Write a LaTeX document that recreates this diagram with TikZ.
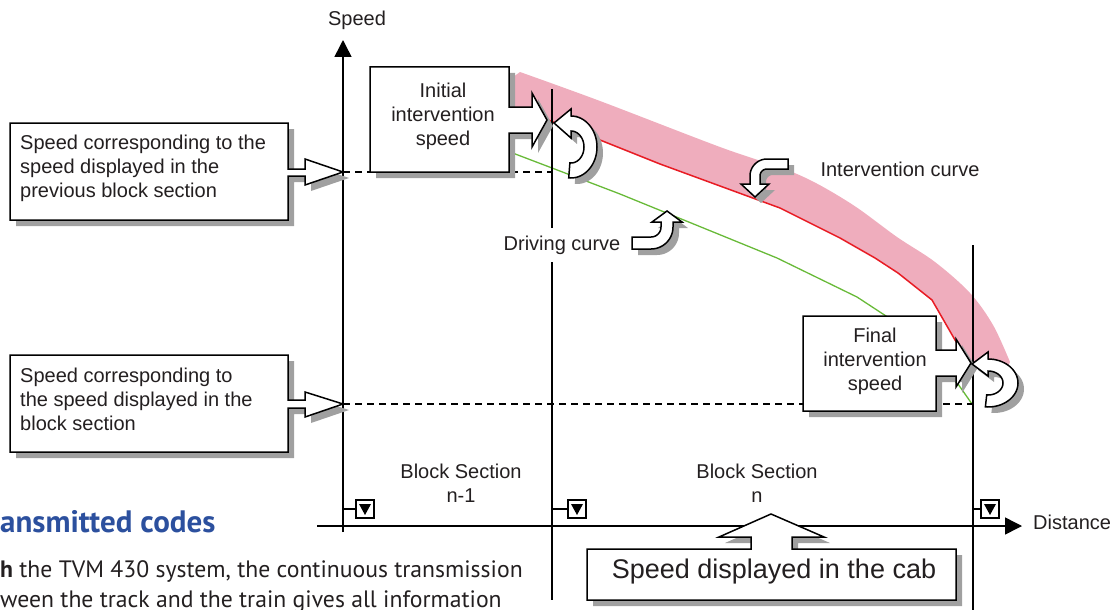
\documentclass[tikz,border=0pt]{standalone}
\usepackage{fontspec}
\setmainfont{Liberation Sans}
\newfontfamily\ptsans{PT Sans}
\usetikzlibrary{arrows.meta,calc}
\definecolor{pinkband}{RGB}{239,173,189}
\definecolor{redc}{RGB}{232,28,36}
\definecolor{greenc}{RGB}{104,186,56}
\definecolor{shadowc}{RGB}{160,160,160}
\definecolor{headblue}{RGB}{44,80,158}
\definecolor{txtc}{RGB}{35,31,32}
\newcommand\shapeLA[1]{\path[#1] (10,123) -- (288,123) -- (288,169) -- (305,169) -- (305,159) -- (343,172) -- (305,185) -- (305,176) -- (288,176) -- (288,220) -- (10,220) -- cycle;}
\newcommand\shapeLB[1]{\path[#1] (10,355) -- (288,355) -- (288,400) -- (305,400) -- (305,392) -- (343,404) -- (305,417) -- (305,408) -- (288,408) -- (288,452) -- (10,452) -- cycle;}
\newcommand\shapeIni[1]{\path[#1] (370,67) -- (509,67) -- (509,107) -- (532,107) -- (532,93) -- (547,120) -- (532,147) -- (532,133) -- (509,133) -- (509,172) -- (370,172) -- cycle;}
\newcommand\shapeFin[1]{\path[#1] (803,316) -- (936,316) -- (936,350) -- (956,350) -- (956,339) -- (971,363) -- (956,387) -- (956,376) -- (936,376) -- (936,411) -- (803,411) -- cycle;}
\newcommand\shapeCab[1]{\path[#1] (587,549) -- (751,549) -- (751,537) -- (719,537) -- (771,514) -- (824,537) -- (792,537) -- (792,549) -- (956,549) -- (956,600) -- (587,600) -- cycle;}
\newcommand\shapeInt[1]{\path[#1] (788,159) -- (767,159) -- plot[domain=-90:-180,samples=20] ({767+17*cos(\x)},{176+17*sin(\x)}) -- (750,184) -- (741,184) -- (755,197) -- (769,184) -- (760,184) -- plot[domain=-180:-90,samples=20] ({767+7*cos(\x)},{176+7*sin(\x)}) -- (788,169) -- cycle;}
\newcommand\shapeDrv[1]{\path[#1] (632,249) -- (651,249) -- plot[domain=90:0,samples=20] ({651+22*cos(\x)},{227+22*sin(\x)}) -- (673,222) -- (682,222) -- (667,211) -- (652,222) -- (661,222) -- plot[domain=0:90,samples=20] ({651+10*cos(\x)},{227+10*sin(\x)}) -- (632,237) -- cycle;}
\newcommand\shapeUI[1]{\path[#1] plot[domain=95:-90,samples=40] ({571+26*cos(\x)},{147+31*sin(\x)}) -- (571,109) -- (554,123) -- (571,138) -- plot[domain=-90:95,samples=40] ({571+13*cos(\x)},{147+16*sin(\x)}) -- cycle;}
\newcommand\shapeUF[1]{\path[#1] plot[domain=95:-90,samples=40] ({988+30*cos(\x)},{383+24*sin(\x)}) -- (988,352) -- (972,364) -- (988,376) -- plot[domain=-90:95,samples=40] ({988+15*cos(\x)},{383+12*sin(\x)}) -- cycle;}
\begin{document}
\begin{tikzpicture}[x=1pt,y=-1pt,
  outl/.style={draw=black,line width=1.5pt,fill=white,line join=miter},
  shad/.style={fill=shadowc,draw=none,shift={(6,6)}},
  txt/.style={font=\fontsize{20}{24}\selectfont,inner sep=0pt,text=txtc},
  axisl/.style={line width=1.5pt,-{Triangle[length=17pt,width=17pt]}},
  vline/.style={line width=1.3pt},
  dashl/.style={line width=1.2pt,dash pattern=on 7pt off 5pt},
  sigbox/.style={draw,line width=1.4pt,fill=white,minimum width=18pt,minimum height=18pt,inner sep=0pt},
  tick/.style={line width=1.2pt}]
\useasboundingbox (0,0) rectangle (1114,610);
\clip (0,0) rectangle (1114,610);
% pink band
\fill[pinkband] (505,80) -- (509,80) -- plot[smooth,tension=0.55] coordinates {(520,72) (600,101) (720,147) (797,174) (850,203) (897,237) (935,262) (970,293) (993,325) (1010,362)} -- (1005,372) -- (972,365) -- (955,340) -- (932,300) -- (898,273) -- (875,258) -- (840,238) -- (780,208) -- (720,186) -- (660,164) -- (600,140) -- (548,120) -- (505,106) -- cycle;
% curves
\draw[redc,line width=1.5pt,line join=round] (548,120) -- (600,140) -- (660,164) -- (720,186) -- (780,208) -- (840,238) -- (875,258) -- (898,273) -- (932,300) -- (955,340) -- (972,365);
\draw[greenc,line width=1.3pt,line join=round] (510,152) -- (552,168) -- (620,194) -- (777,258) -- (857,297) -- (886,316) -- (958,384) -- (972,404);
% dashed levels
\draw[dashl] (343,172) -- (551,172);
\draw[dashl] (343,404) -- (973,404);
% axes and section limits
\draw[axisl] (343,532) -- (343,40);
\draw[axisl] (317,526) -- (1022,526);
\draw[vline] (552,89) -- (552,600);
\draw[vline] (973,245) -- (973,610);
% signal markers
\foreach \n/\cx/\lx in {m1/365/343, m2/577/552, m3/990/973}{
  \node[sigbox] (\n) at (\cx,509) {};
  \draw[tick] (\lx,509) -- (\n.west);
  \fill (\n.center) ++(-6,-5) -- ++(12,0) -- ++(-6,11) -- cycle;
}
% callouts
\shapeLA{shad}\shapeLA{outl}
\shapeLB{shad}\shapeLB{outl}
\shapeIni{shad}\shapeIni{outl}
\shapeFin{shad}\shapeFin{outl}
\shapeCab{shad}\shapeCab{outl}
\shapeInt{shad}\shapeInt{outl}
\shapeDrv{shad}\shapeDrv{outl}
\shapeUI{shad}\shapeUI{outl}
\shapeUF{shad}\shapeUF{outl}
% texts
\node[txt] (speedlbl) at (357,20) {Speed};
\node[txt,align=center] (initxt) at (443,116) {Initial\\intervention\\speed};
\node[txt,align=left,anchor=west] (prevtxt) at (20,168) {Speed corresponding to the\\speed displayed in the\\previous block section};
\node[txt,align=left,anchor=west] (curtxt) at (20,399) {Speed corresponding to\\the speed displayed in the\\block section};
\node[txt] (intlbl) at (900,169) {Intervention curve};
\node[txt,fill=white,inner xsep=3pt,inner ysep=8pt] (drvlbl) at (562,245) {Driving curve};
\node[txt,align=center] (fintxt) at (875,361) {Final\\intervention\\speed};
\node[txt,align=center] (bs1) at (461,483) {Block Section\\n-1};
\node[txt,align=center] (bs2) at (757,483) {Block Section\\n};
\node[txt,font=\fontsize{27}{32}\selectfont] (cabtxt) at (774,572) {Speed displayed in the cab};
\node[txt,anchor=west] (distlbl) at (1033,522) {Distance};
\node[anchor=base west,inner sep=0pt,font=\ptsans\bfseries\fontsize{31}{35}\selectfont,text=headblue] (head) at (0,532) {ansmitted codes};
\node[anchor=base west,inner sep=0pt,font=\ptsans\fontsize{23.7}{31}\selectfont,text=txtc] (body1) at (0,577) {\textbf{h} the TVM 430 system, the continuous transmission};
\node[anchor=base west,inner sep=0pt,font=\ptsans\fontsize{23.7}{31}\selectfont,text=txtc] (body2) at (0,607) {ween the track and the train gives all information};
\end{tikzpicture}
\end{document}
